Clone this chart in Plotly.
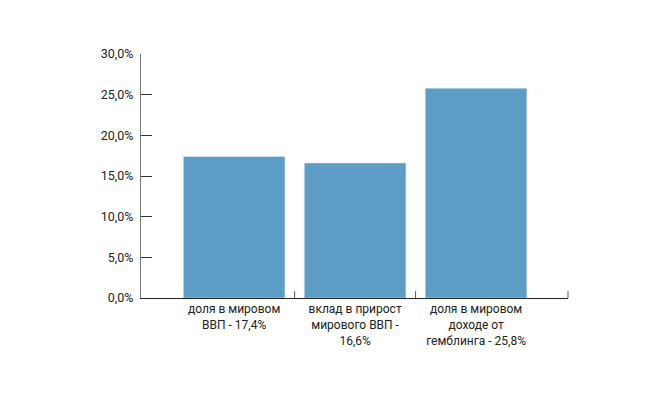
import plotly.graph_objects as go

categories = [
    "доля в мировом<br>ВВП - 17,4%",
    "вклад в прирост<br>мирового ВВП -<br>16,6%",
    "доля в мировом<br>доходе от<br>гемблинга - 25,8%",
]
values = [17.4, 16.6, 25.8]
y_ticks = [0, 5, 10, 15, 20, 25, 30]
y_tick_labels = ["0,0%", "5,0%", "10,0%", "15,0%", "20,0%", "25,0%", "30,0%"]

bar_color = "#5b9dc5"
axis_color = "#555555"
font_color = "#333333"

fig = go.Figure()
fig.add_trace(go.Bar(
    x=categories, y=values, marker_color=bar_color, width=0.84,
    hoverinfo="skip",
))

# x-axis boundary tick marks (between categories and at axis end)
for xv, ref in [(0.5, "x"), (1.5, "x"), (1.0, "x domain")]:
    fig.add_shape(type="line", xref=ref, yref="y domain",
                  x0=xv, x1=xv, y0=0, y1=0.028,
                  line=dict(color=axis_color, width=1))

fig.update_layout(
    width=642, height=388,
    margin=dict(l=133, r=82, t=46, b=98),
    paper_bgcolor="white", plot_bgcolor="white",
    font=dict(family="Roboto, Arial, sans-serif", size=12, color=font_color),
    showlegend=False,
    xaxis=dict(
        type="category", range=[-0.77, 2.76],
        showline=True, linecolor="#222222", linewidth=1,
        ticks="", showgrid=False, zeroline=False,
        tickfont=dict(size=12, color="#222222"),
    ),
    yaxis=dict(
        range=[0, 30], tickvals=y_ticks, ticktext=y_tick_labels,
        showline=True, linecolor="#777777", linewidth=1,
        ticks="inside", ticklen=11, tickcolor="#333333", tickwidth=1,
        showgrid=False, zeroline=False,
        tickfont=dict(size=12.5, color="#222222"),
        ticklabelstandoff=4,
    ),
)

fig.write_html("out.html")
